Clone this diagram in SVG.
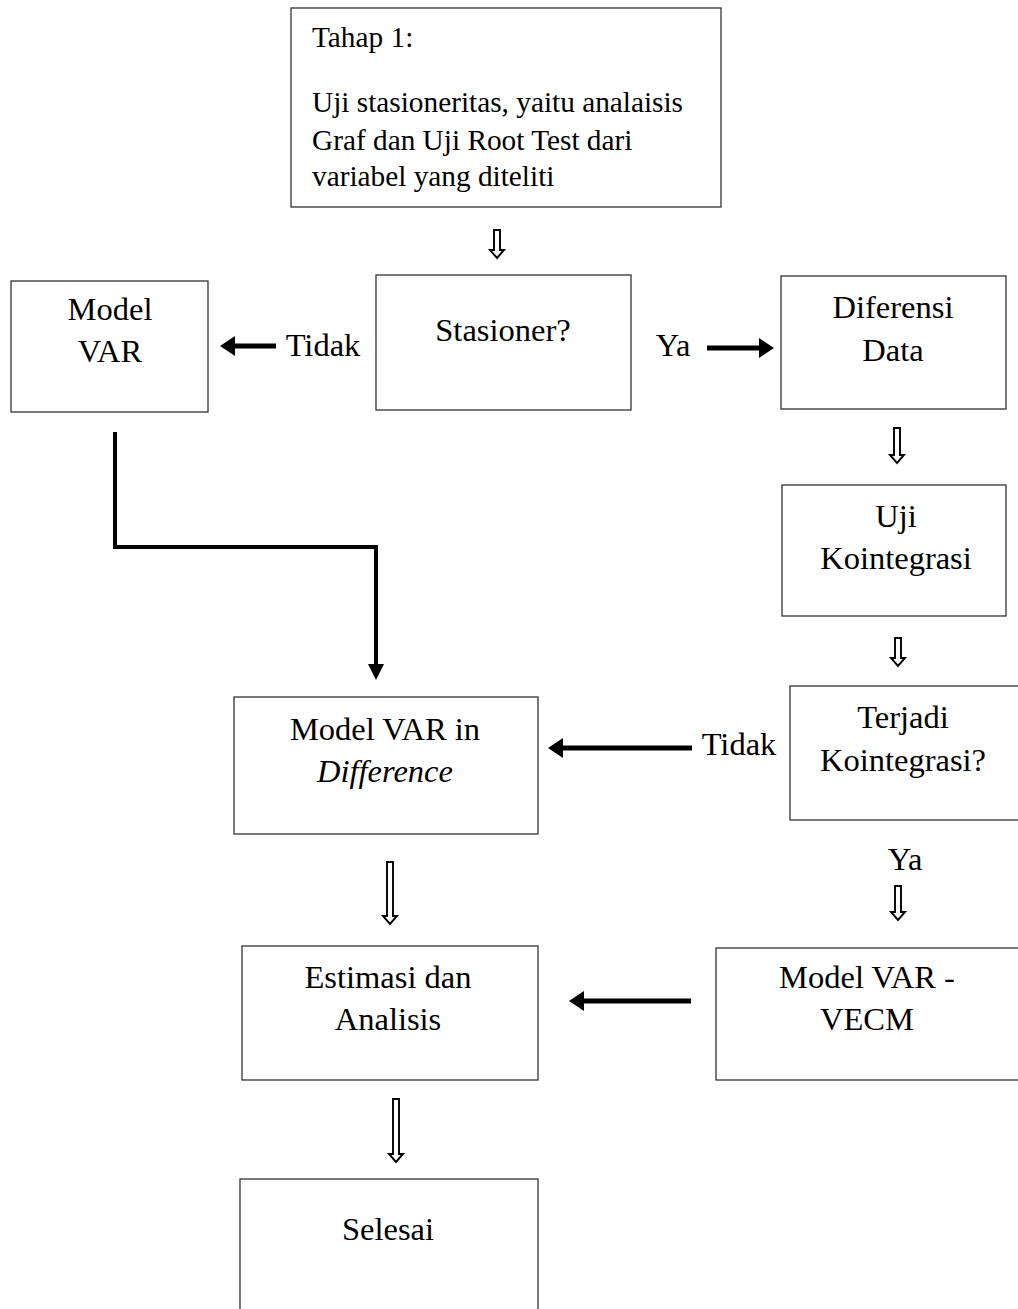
<svg xmlns="http://www.w3.org/2000/svg" width="1018" height="1309" viewBox="0 0 1018 1309">
<style>
.box{fill:#fff;stroke:#333;stroke-width:1.3}
.t{font-family:"Liberation Serif","Times New Roman",serif;font-size:32.5px;fill:#000;text-anchor:middle}
.s{font-family:"Liberation Serif","Times New Roman",serif;font-size:29.3px;fill:#000}
.hollow{fill:#fff;stroke:#000;stroke-width:1.9;stroke-linejoin:miter}
.thick{stroke:#000;stroke-width:5;fill:none}
.elbow{stroke:#000;stroke-width:4;fill:none}
</style>
<defs>
<marker id="ah" markerWidth="4" markerHeight="4" refX="1" refY="2" orient="auto" markerUnits="strokeWidth"><path d="M0,0 L3,2 L0,4 Z" fill="#000"/></marker>
<marker id="ah2" markerWidth="5" markerHeight="5" refX="1" refY="2.5" orient="auto" markerUnits="strokeWidth"><path d="M0,0.5 L4,2.5 L0,4.5 Z" fill="#000"/></marker>
</defs>
<g id="n1"><rect class="box" x="291" y="8" width="430" height="199"/>
<text class="s" x="312" y="47">Tahap 1:</text>
<text class="s" x="312" y="112">Uji stasioneritas, yaitu analaisis</text>
<text class="s" x="312" y="150">Graf dan Uji Root Test dari</text>
<text class="s" x="312" y="186">variabel yang diteliti</text></g>
<g id="n2"><rect class="box" x="376" y="275" width="255" height="135"/><text class="t" x="503" y="341">Stasioner?</text></g>
<g id="n3"><rect class="box" x="11" y="281" width="197" height="131"/><text class="t" x="110" y="320">Model</text><text class="t" x="110" y="362">VAR</text></g>
<g id="n4"><rect class="box" x="781" y="276" width="225" height="133"/><text class="t" x="893" y="318">Diferensi</text><text class="t" x="893" y="361">Data</text></g>
<g id="n5"><rect class="box" x="782" y="485" width="224" height="131"/><text class="t" x="896" y="527">Uji</text><text class="t" x="896" y="569">Kointegrasi</text></g>
<g id="n6"><rect class="box" x="790" y="686" width="240" height="134"/><text class="t" x="903" y="728">Terjadi</text><text class="t" x="903" y="771">Kointegrasi?</text></g>
<g id="n7"><rect class="box" x="234" y="697" width="304" height="137"/><text class="t" x="385" y="740">Model VAR in</text><text class="t" x="385" y="782" font-style="italic">Difference</text></g>
<g id="n8"><rect class="box" x="242" y="946" width="296" height="134"/><text class="t" x="388" y="988">Estimasi dan</text><text class="t" x="388" y="1030">Analisis</text></g>
<g id="n9"><rect class="box" x="716" y="948" width="320" height="132"/><text class="t" x="867" y="988">Model VAR -</text><text class="t" x="867" y="1030">VECM</text></g>
<g id="n10"><rect class="box" x="240" y="1179" width="298" height="150"/><text class="t" x="388" y="1240">Selesai</text></g>
<g id="connectors">
<path class="hollow" d="M494,230 H500 V250 H504 L497,258 L490,250 H494 Z"/>
<path class="hollow" d="M894,428 H900 V455 H904 L897,463 L890,455 H894 Z"/>
<path class="hollow" d="M895,638 H901 V658 H905 L898,666 L891,658 H895 Z"/>
<path class="hollow" d="M387,862 H393 V916 H397 L390,924 L383,916 H387 Z"/>
<path class="hollow" d="M895,886 H901 V912 H905 L898,920 L891,912 H895 Z"/>
<path class="hollow" d="M393,1099 H399 V1154 H403 L396,1162 L389,1154 H393 Z"/>
<line class="thick" x1="276" y1="346" x2="230" y2="346" marker-end="url(#ah)"/>
<line class="thick" x1="707" y1="348" x2="764" y2="348" marker-end="url(#ah)"/>
<line class="thick" x1="692" y1="748" x2="558" y2="748" marker-end="url(#ah)"/>
<line class="thick" x1="691" y1="1001" x2="579" y2="1001" marker-end="url(#ah)"/>
<polyline class="elbow" points="115,432 115,547 376,547 376,668" marker-end="url(#ah2)"/>
<text class="t" x="323" y="356">Tidak</text>
<text class="t" x="673" y="356">Ya</text>
<text class="t" x="739" y="755">Tidak</text>
<text class="t" x="905" y="870">Ya</text>
</g>
</svg>
